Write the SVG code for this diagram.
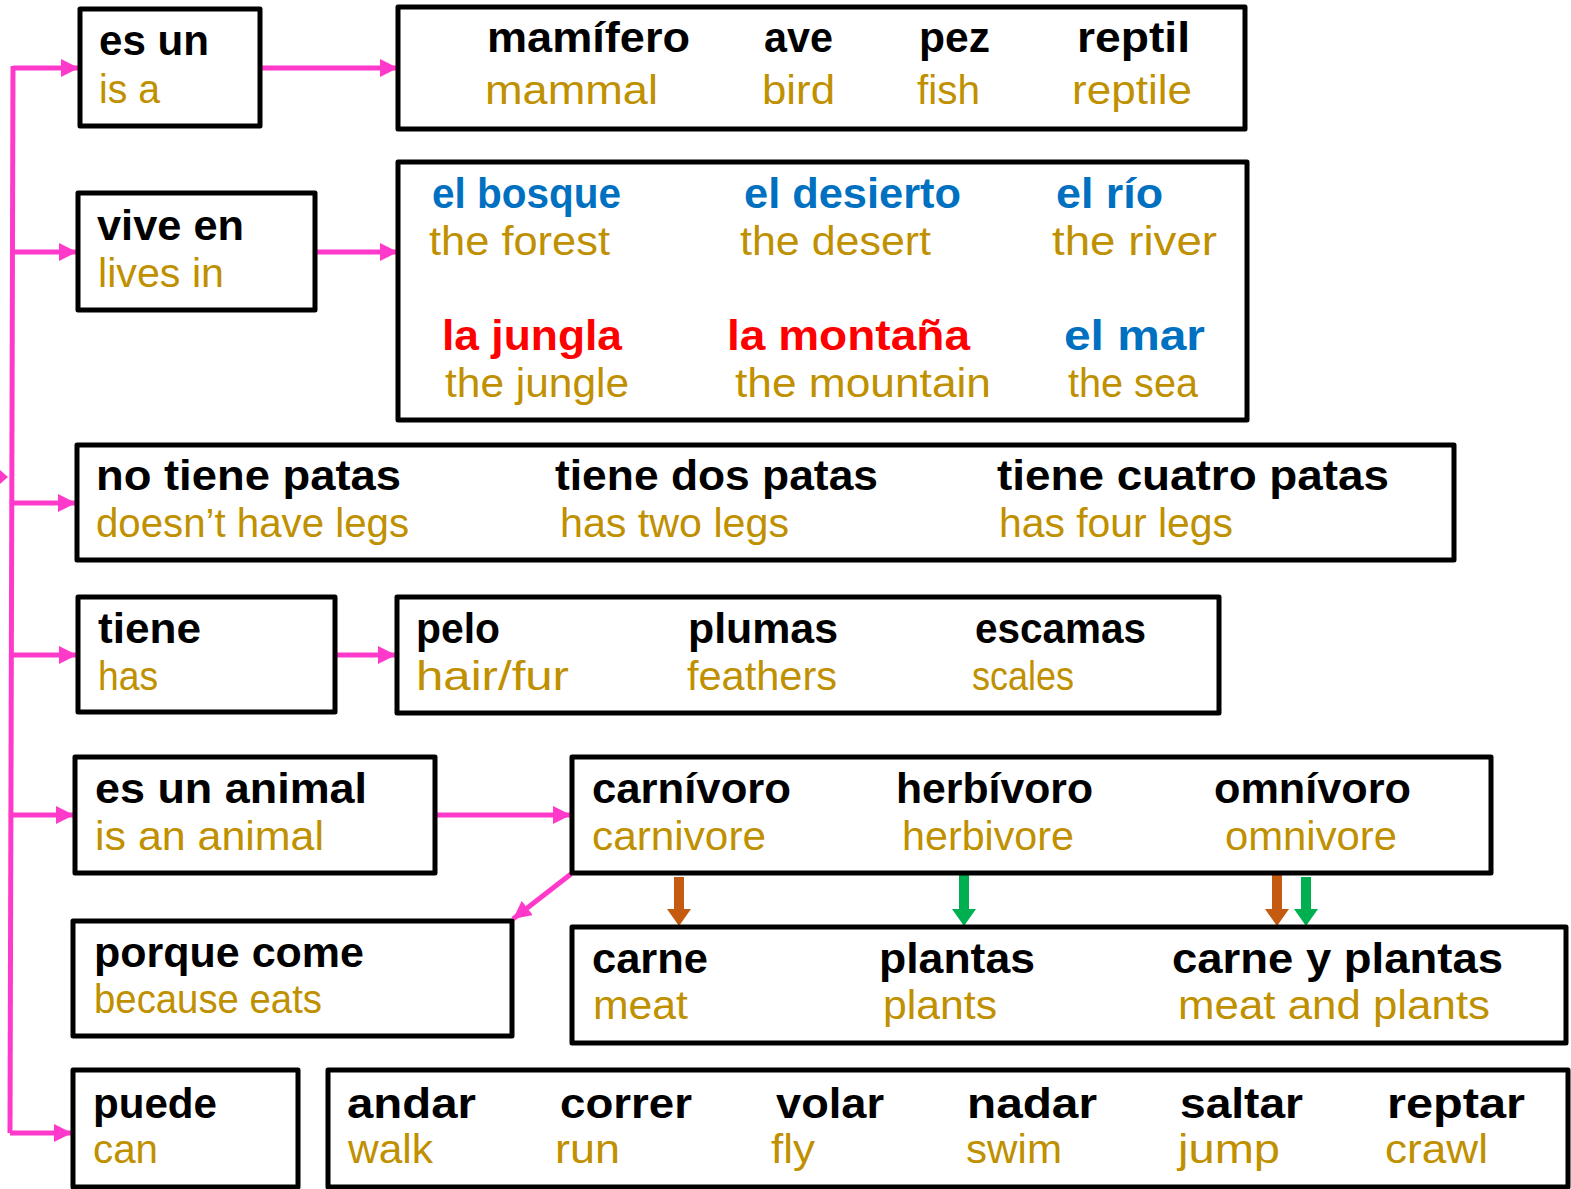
<svg xmlns="http://www.w3.org/2000/svg" width="1571" height="1189" viewBox="0 0 1571 1189">
<defs>
<style>
.box{fill:#fff;stroke:#000;stroke-width:5;stroke-linejoin:round}
.es{font-family:"Liberation Sans",Arial,sans-serif;font-weight:bold;font-size:42px;fill:#000}
.en{font-family:"Liberation Sans",Arial,sans-serif;font-size:40px;fill:#BF9000}
.bl{fill:#0070C0}
.rd{fill:#FF0000}
.pk{fill:none;stroke:#FF3ACB;stroke-width:5}
</style>
<marker id="ah" markerUnits="userSpaceOnUse" markerWidth="18" markerHeight="18" refX="18" refY="9" orient="auto">
<path d="M0,0 L18,9 L0,18 z" fill="#FF3ACB"/>
</marker>
</defs>
<g id="connectors">
<path class="pk" d="M13,66 L10,1133"/>
<path class="pk" d="M13,68 L79,68" marker-end="url(#ah)"/>
<path class="pk" d="M12,252 L77,252" marker-end="url(#ah)"/>
<path class="pk" d="M11,503 L76,503" marker-end="url(#ah)"/>
<path class="pk" d="M11,655 L77,655" marker-end="url(#ah)"/>
<path class="pk" d="M10,815 L74,815" marker-end="url(#ah)"/>
<path class="pk" d="M10,1133 L72,1133" marker-end="url(#ah)"/>
<path d="M0,470 L8,477 L0,484 z" fill="#FF3ACB"/>
<path class="pk" d="M262,68 L398,68" marker-end="url(#ah)"/>
<path class="pk" d="M317,252 L398,252" marker-end="url(#ah)"/>
<path class="pk" d="M337,655 L396,655" marker-end="url(#ah)"/>
<path class="pk" d="M436,815 L571,815" marker-end="url(#ah)"/>
<path class="pk" d="M571,874 L513,919" marker-end="url(#ah)"/>
<path d="M674,877 L684,877 L684,909 L691,909 L679,926 L667,909 L674,909 z" fill="#C55A11"/>
<path d="M959,873 L969,873 L969,909 L976,909 L964,926 L952,909 L959,909 z" fill="#00B050"/>
<path d="M1272,875 L1282,875 L1282,909 L1289,909 L1277,926 L1265,909 L1272,909 z" fill="#C55A11"/>
<path d="M1301,877 L1311,877 L1311,909 L1318,909 L1306,926 L1294,909 L1301,909 z" fill="#00B050"/>
</g>
<g id="n-esun"><rect class="box" x="80" y="9" width="180" height="117"/>
<text class="es" x="99" y="55" textLength="110" lengthAdjust="spacingAndGlyphs">es un</text>
<text class="en" x="99" y="103" textLength="61" lengthAdjust="spacingAndGlyphs">is a</text></g>
<g id="n-tipos"><rect class="box" x="398" y="7" width="847" height="122"/>
<text class="es" x="487" y="52" textLength="203" lengthAdjust="spacingAndGlyphs">mamífero</text>
<text class="en" x="485" y="104" textLength="173" lengthAdjust="spacingAndGlyphs">mammal</text>
<text class="es" x="764" y="52" textLength="69" lengthAdjust="spacingAndGlyphs">ave</text>
<text class="en" x="762" y="104" textLength="73" lengthAdjust="spacingAndGlyphs">bird</text>
<text class="es" x="919" y="52" textLength="71" lengthAdjust="spacingAndGlyphs">pez</text>
<text class="en" x="917" y="104" textLength="63" lengthAdjust="spacingAndGlyphs">fish</text>
<text class="es" x="1077" y="52" textLength="113" lengthAdjust="spacingAndGlyphs">reptil</text>
<text class="en" x="1072" y="104" textLength="120" lengthAdjust="spacingAndGlyphs">reptile</text></g>
<g id="n-vive"><rect class="box" x="78" y="193" width="237" height="117"/>
<text class="es" x="97" y="240" textLength="147" lengthAdjust="spacingAndGlyphs">vive en</text>
<text class="en" x="98" y="287" textLength="126" lengthAdjust="spacingAndGlyphs">lives in</text></g>
<g id="n-lugares"><rect class="box" x="398" y="162" width="849" height="258"/>
<text class="es bl" x="432" y="208" textLength="189" lengthAdjust="spacingAndGlyphs">el bosque</text>
<text class="en" x="429" y="255" textLength="181" lengthAdjust="spacingAndGlyphs">the forest</text>
<text class="es bl" x="744" y="208" textLength="217" lengthAdjust="spacingAndGlyphs">el desierto</text>
<text class="en" x="740" y="255" textLength="191" lengthAdjust="spacingAndGlyphs">the desert</text>
<text class="es bl" x="1056" y="208" textLength="107" lengthAdjust="spacingAndGlyphs">el río</text>
<text class="en" x="1052" y="255" textLength="165" lengthAdjust="spacingAndGlyphs">the river</text>
<text class="es rd" x="442" y="350" textLength="180" lengthAdjust="spacingAndGlyphs">la jungla</text>
<text class="en" x="445" y="397" textLength="184" lengthAdjust="spacingAndGlyphs">the jungle</text>
<text class="es rd" x="727" y="350" textLength="243" lengthAdjust="spacingAndGlyphs">la montaña</text>
<text class="en" x="735" y="397" textLength="256" lengthAdjust="spacingAndGlyphs">the mountain</text>
<text class="es bl" x="1064" y="350" textLength="141" lengthAdjust="spacingAndGlyphs">el mar</text>
<text class="en" x="1068" y="397" textLength="130" lengthAdjust="spacingAndGlyphs">the sea</text></g>
<g id="n-patas"><rect class="box" x="77" y="445" width="1377" height="115"/>
<text class="es" x="96" y="490" textLength="305" lengthAdjust="spacingAndGlyphs">no tiene patas</text>
<text class="en" x="96" y="537" textLength="313" lengthAdjust="spacingAndGlyphs">doesn’t have legs</text>
<text class="es" x="555" y="490" textLength="323" lengthAdjust="spacingAndGlyphs">tiene dos patas</text>
<text class="en" x="560" y="537" textLength="229" lengthAdjust="spacingAndGlyphs">has two legs</text>
<text class="es" x="997" y="490" textLength="392" lengthAdjust="spacingAndGlyphs">tiene cuatro patas</text>
<text class="en" x="999" y="537" textLength="234" lengthAdjust="spacingAndGlyphs">has four legs</text></g>
<g id="n-tiene"><rect class="box" x="78" y="597" width="257" height="115"/>
<text class="es" x="98" y="643" textLength="103" lengthAdjust="spacingAndGlyphs">tiene</text>
<text class="en" x="98" y="690" textLength="60" lengthAdjust="spacingAndGlyphs">has</text></g>
<g id="n-cubierta"><rect class="box" x="397" y="597" width="822" height="116"/>
<text class="es" x="416" y="643" textLength="84" lengthAdjust="spacingAndGlyphs">pelo</text>
<text class="en" x="416" y="690" textLength="153" lengthAdjust="spacingAndGlyphs">hair/fur</text>
<text class="es" x="688" y="643" textLength="150" lengthAdjust="spacingAndGlyphs">plumas</text>
<text class="en" x="687" y="690" textLength="150" lengthAdjust="spacingAndGlyphs">feathers</text>
<text class="es" x="975" y="643" textLength="171" lengthAdjust="spacingAndGlyphs">escamas</text>
<text class="en" x="972" y="690" textLength="102" lengthAdjust="spacingAndGlyphs">scales</text></g>
<g id="n-animal"><rect class="box" x="75" y="757" width="360" height="116"/>
<text class="es" x="95" y="803" textLength="272" lengthAdjust="spacingAndGlyphs">es un animal</text>
<text class="en" x="95" y="850" textLength="229" lengthAdjust="spacingAndGlyphs">is an animal</text></g>
<g id="n-dieta"><rect class="box" x="572" y="757" width="919" height="116"/>
<text class="es" x="592" y="803" textLength="199" lengthAdjust="spacingAndGlyphs">carnívoro</text>
<text class="en" x="592" y="850" textLength="174" lengthAdjust="spacingAndGlyphs">carnivore</text>
<text class="es" x="896" y="803" textLength="197" lengthAdjust="spacingAndGlyphs">herbívoro</text>
<text class="en" x="902" y="850" textLength="172" lengthAdjust="spacingAndGlyphs">herbivore</text>
<text class="es" x="1214" y="803" textLength="197" lengthAdjust="spacingAndGlyphs">omnívoro</text>
<text class="en" x="1225" y="850" textLength="172" lengthAdjust="spacingAndGlyphs">omnivore</text></g>
<g id="n-porque"><rect class="box" x="73" y="921" width="439" height="115"/>
<text class="es" x="94" y="967" textLength="270" lengthAdjust="spacingAndGlyphs">porque come</text>
<text class="en" x="94" y="1013" textLength="228" lengthAdjust="spacingAndGlyphs">because eats</text></g>
<g id="n-comida"><rect class="box" x="572" y="927" width="994" height="116"/>
<text class="es" x="592" y="973" textLength="116" lengthAdjust="spacingAndGlyphs">carne</text>
<text class="en" x="593" y="1019" textLength="95" lengthAdjust="spacingAndGlyphs">meat</text>
<text class="es" x="879" y="973" textLength="156" lengthAdjust="spacingAndGlyphs">plantas</text>
<text class="en" x="883" y="1019" textLength="114" lengthAdjust="spacingAndGlyphs">plants</text>
<text class="es" x="1172" y="973" textLength="331" lengthAdjust="spacingAndGlyphs">carne y plantas</text>
<text class="en" x="1178" y="1019" textLength="312" lengthAdjust="spacingAndGlyphs">meat and plants</text></g>
<g id="n-puede"><rect class="box" x="73" y="1070" width="225" height="117"/>
<text class="es" x="93" y="1118" textLength="124" lengthAdjust="spacingAndGlyphs">puede</text>
<text class="en" x="93" y="1163" textLength="65" lengthAdjust="spacingAndGlyphs">can</text></g>
<g id="n-verbos"><rect class="box" x="328" y="1070" width="1240" height="117"/>
<text class="es" x="347" y="1118" textLength="129" lengthAdjust="spacingAndGlyphs">andar</text>
<text class="en" x="348" y="1163" textLength="85" lengthAdjust="spacingAndGlyphs">walk</text>
<text class="es" x="560" y="1118" textLength="132" lengthAdjust="spacingAndGlyphs">correr</text>
<text class="en" x="555" y="1163" textLength="65" lengthAdjust="spacingAndGlyphs">run</text>
<text class="es" x="776" y="1118" textLength="108" lengthAdjust="spacingAndGlyphs">volar</text>
<text class="en" x="771" y="1163" textLength="44" lengthAdjust="spacingAndGlyphs">fly</text>
<text class="es" x="967" y="1118" textLength="130" lengthAdjust="spacingAndGlyphs">nadar</text>
<text class="en" x="966" y="1163" textLength="96" lengthAdjust="spacingAndGlyphs">swim</text>
<text class="es" x="1180" y="1118" textLength="123" lengthAdjust="spacingAndGlyphs">saltar</text>
<text class="en" x="1178" y="1163" textLength="102" lengthAdjust="spacingAndGlyphs">jump</text>
<text class="es" x="1387" y="1118" textLength="138" lengthAdjust="spacingAndGlyphs">reptar</text>
<text class="en" x="1385" y="1163" textLength="103" lengthAdjust="spacingAndGlyphs">crawl</text></g>
</svg>
